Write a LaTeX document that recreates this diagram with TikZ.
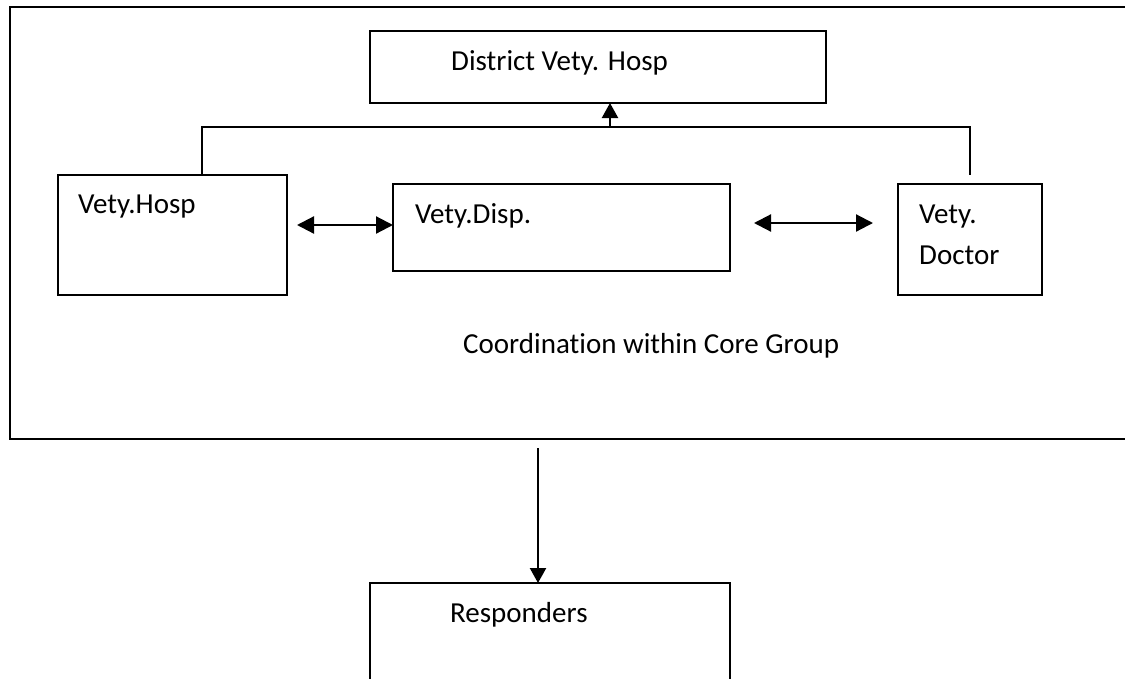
\documentclass[tikz,border=0pt]{standalone}
\usepackage{fontspec}
\setmainfont{Carlito}[Ligatures={NoCommon}]
\usetikzlibrary{arrows.meta,calc}
\begin{document}
\begin{tikzpicture}[x=1pt,y=-1pt,
  frame/.style={draw=black,line width=2.3pt},
  box/.style={draw=black,line width=2.1pt,inner sep=0pt,outer sep=0pt,rectangle},
  txt/.style={anchor=base west,inner sep=0pt,font=\fontsize{29}{35}\selectfont},
  link/.style={draw=black,line width=2.2pt},
  head/.style={-{Triangle[length=15pt,width=16pt]}},
  both/.style={{Triangle[length=17pt,width=17pt]}-{Triangle[length=17pt,width=17pt]}}]
\useasboundingbox (0,0) rectangle (1125,678);
\clip (0,0) rectangle (1125,678);
\fill[white] (0,0) rectangle (1125,678);

% core group frame (runs off the right edge)
\draw[frame] (10,7) rectangle (1140,439);

% boxes
\node[box,minimum width=456pt,minimum height=72pt] (district) at (598,67) {};
\node[box,minimum width=229pt,minimum height=120pt] (hosp) at (172.5,235) {};
\node[box,minimum width=337pt,minimum height=87pt] (disp) at (561.5,227.5) {};
\node[box,minimum width=144pt,minimum height=111pt] (doctor) at (970,239.5) {};
\node[box,minimum width=360pt,minimum height=160pt] (resp) at (550,663) {};

% texts
\node[txt] (tdistrict) at (451,70) {District Vety. Hosp};
\node[txt] (thosp) at (78,213) {Vety.Hosp};
\node[txt] (tdisp) at (415,223) {Vety.Disp.};
\node[txt] (tdoc1) at (919,223) {Vety.};
\node[txt] (tdoc2) at (919,264) {Doctor};
\node[txt] (tcore) at (463,353) {Coordination within Core Group};
\node[txt] (tresp) at (450,622) {Responders};

% connector up to the district hospital
\coordinate (jl) at (202,127);
\coordinate (jr) at (970,127);
\coordinate (rend) at (970,175);
\coordinate (ja) at (610,127);
\draw[link] (hosp.north -| jl) -- (jl) -- (jr) -- (rend);
\draw[link,head] (ja) -- (ja |- district.south);

% two-way links
\coordinate (a1) at (297,225);
\coordinate (a2s) at (754,223);
\coordinate (a2e) at (873,223);
\draw[link,both] (a1) -- (a1 -| disp.west);
\draw[link,both] (a2s) -- (a2e);

% down to responders
\coordinate (down) at (538,448);
\draw[link,head] (down) -- (down |- resp.north);
\end{tikzpicture}
\end{document}
